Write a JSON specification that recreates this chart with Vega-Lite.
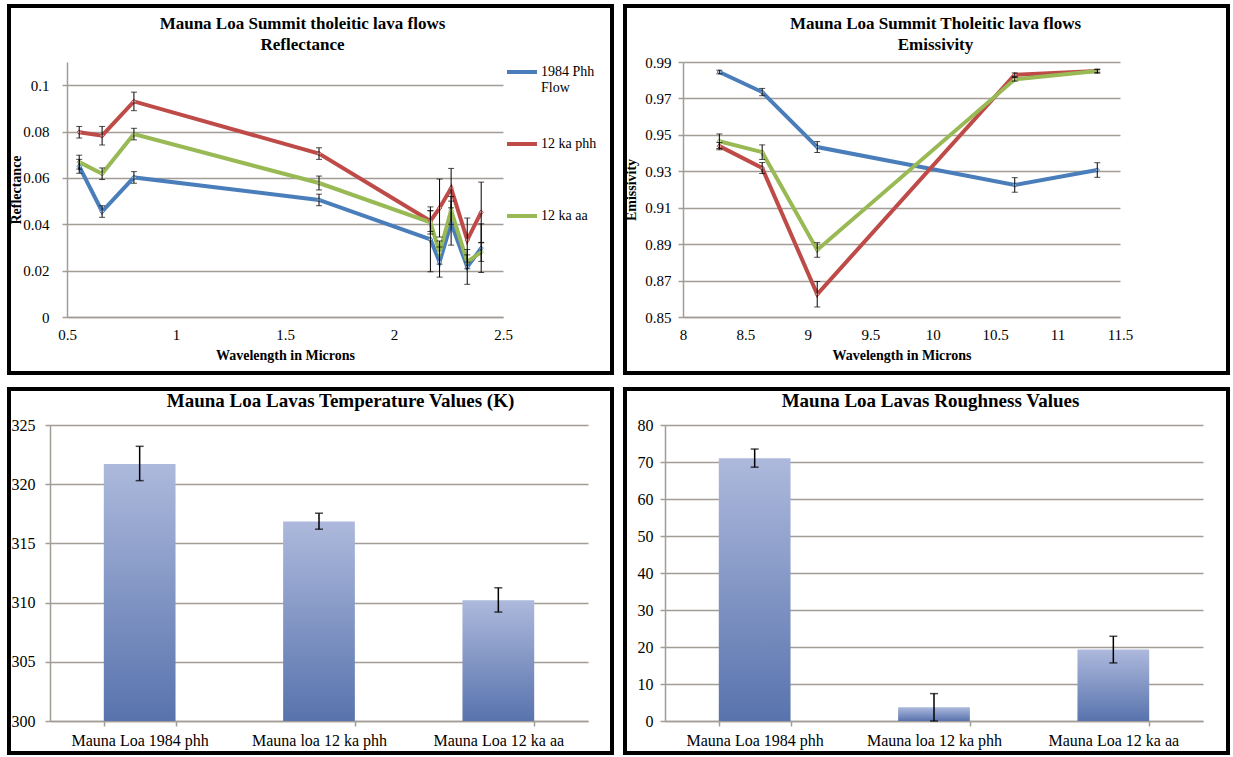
{
  "$schema": "https://vega.github.io/schema/vega-lite/v6.json",
  "background": "white",
  "padding": {"left": 7, "top": 4, "right": 0, "bottom": 0},
  "config": {
    "font": "Liberation Serif",
    "view": {"stroke": "black", "strokeWidth": 4, "fill": "white"},
    "axis": {
      "labelFont": "Liberation Serif",
      "titleFont": "Liberation Serif",
      "labelColor": "black",
      "titleColor": "black",
      "domainColor": "#a39d97",
      "gridColor": "#a39d97",
      "tickColor": "#a39d97",
      "domainWidth": 1.5,
      "gridWidth": 1.5,
      "tickWidth": 1.5,
      "labelFontSize": 15,
      "titleFontSize": 14,
      "titleFontWeight": "bold",
      "labelFlush": false,
      "labelOverlap": false
    },
    "legend": {"labelFont": "Liberation Serif"},
    "title": {"font": "Liberation Serif", "color": "black", "fontWeight": "bold"}
  },
  "concat": [
    {
      "width": 603,
      "height": 367,
      "title": {"text": ["Mauna Loa Summit  tholeitic  lava flows", "Reflectance"], "fontSize": 17, "anchor": "middle", "frame": "group", "dx": -8, "offset": -48, "lineHeight": 21},
      "data": {"values": [
        {"s": "1984 Phh Flow", "wl": 0.556, "v": 0.065, "lo": 0.062, "hi": 0.068},
        {"s": "1984 Phh Flow", "wl": 0.661, "v": 0.0455, "lo": 0.043, "hi": 0.048},
        {"s": "1984 Phh Flow", "wl": 0.807, "v": 0.0602, "lo": 0.0577, "hi": 0.0627},
        {"s": "1984 Phh Flow", "wl": 1.656, "v": 0.0505, "lo": 0.048, "hi": 0.053},
        {"s": "1984 Phh Flow", "wl": 2.167, "v": 0.0335, "lo": 0.0195, "hi": 0.0475},
        {"s": "1984 Phh Flow", "wl": 2.209, "v": 0.0237, "lo": 0.0172, "hi": 0.0302},
        {"s": "1984 Phh Flow", "wl": 2.262, "v": 0.0405, "lo": 0.031, "hi": 0.05},
        {"s": "1984 Phh Flow", "wl": 2.336, "v": 0.0216, "lo": 0.0141, "hi": 0.0291},
        {"s": "1984 Phh Flow", "wl": 2.4, "v": 0.0297, "lo": 0.0192, "hi": 0.0402},
        {"s": "12 ka phh", "wl": 0.556, "v": 0.0797, "lo": 0.0772, "hi": 0.0822},
        {"s": "12 ka phh", "wl": 0.661, "v": 0.0782, "lo": 0.0742, "hi": 0.0822},
        {"s": "12 ka phh", "wl": 0.807, "v": 0.093, "lo": 0.089, "hi": 0.097},
        {"s": "12 ka phh", "wl": 1.656, "v": 0.0705, "lo": 0.068, "hi": 0.073},
        {"s": "12 ka phh", "wl": 2.167, "v": 0.0414, "lo": 0.0369, "hi": 0.0459},
        {"s": "12 ka phh", "wl": 2.209, "v": 0.047, "lo": 0.0345, "hi": 0.0595},
        {"s": "12 ka phh", "wl": 2.262, "v": 0.0556, "lo": 0.0471, "hi": 0.0641},
        {"s": "12 ka phh", "wl": 2.336, "v": 0.0332, "lo": 0.0237, "hi": 0.0427},
        {"s": "12 ka phh", "wl": 2.4, "v": 0.0452, "lo": 0.0322, "hi": 0.0582},
        {"s": "12 ka aa", "wl": 0.556, "v": 0.0668, "lo": 0.0638, "hi": 0.0698},
        {"s": "12 ka aa", "wl": 0.661, "v": 0.0618, "lo": 0.0593, "hi": 0.0643},
        {"s": "12 ka aa", "wl": 0.807, "v": 0.0789, "lo": 0.0764, "hi": 0.0814},
        {"s": "12 ka aa", "wl": 1.656, "v": 0.0578, "lo": 0.0548, "hi": 0.0608},
        {"s": "12 ka aa", "wl": 2.167, "v": 0.0408, "lo": 0.0358, "hi": 0.0458},
        {"s": "12 ka aa", "wl": 2.209, "v": 0.0278, "lo": 0.0228, "hi": 0.0328},
        {"s": "12 ka aa", "wl": 2.262, "v": 0.046, "lo": 0.04, "hi": 0.052},
        {"s": "12 ka aa", "wl": 2.336, "v": 0.0238, "lo": 0.0208, "hi": 0.0268},
        {"s": "12 ka aa", "wl": 2.4, "v": 0.028, "lo": 0.024, "hi": 0.032}
      ]},
      "layer": [
        {
          "mark": {"type": "line", "strokeWidth": 4},
          "encoding": {
            "x": {"field": "wl", "type": "quantitative", "title": "Wavelength in Microns", "scale": {"domain": [0.5, 2.5], "range": [58, 494], "nice": false, "zero": false},
              "axis": {"offset": -56, "values": [0.5, 1, 1.5, 2, 2.5], "format": "~g", "grid": false, "ticks": false, "labelPadding": 10, "titlePadding": 6}},
            "y": {"field": "v", "type": "quantitative", "title": "Reflectance", "scale": {"domain": [0, 0.11], "range": [311, 56], "nice": false},
              "axis": {"offset": -58, "values": [0, 0.02, 0.04, 0.06, 0.08, 0.1], "format": "~g", "grid": true, "tickSize": 5, "labelPadding": 13, "titleX": -44}},
            "color": {"field": "s", "type": "nominal", "sort": ["1984 Phh Flow", "12 ka phh", "12 ka aa"],
              "scale": {"domain": ["1984 Phh Flow", "12 ka phh", "12 ka aa"], "range": ["#4a7ebb", "#be4b48", "#98b954"]},
              "legend": {"orient": "none", "legendX": 496, "legendY": 49, "title": null, "padding": 0, "symbolType": "stroke", "symbolSize": 900, "symbolStrokeWidth": 4, "labelFont": "Liberation Serif", "labelFontSize": 14, "labelColor": "black", "rowPadding": 32, "gridAlign": "all", "labelOffset": 2, "labelBaseline": "middle", "labelExpr": "datum.label == '1984 Phh Flow' ? ['1984  Phh', 'Flow'] : datum.label"}}
          }
        },
        {
          "mark": {"type": "point", "shape": "diamond", "filled": false, "fill": "white", "fillOpacity": 0.7, "size": 20, "strokeWidth": 1},
          "encoding": {
            "x": {"field": "wl", "type": "quantitative", "title": "Wavelength in Microns"},
            "y": {"field": "v", "type": "quantitative", "title": "Reflectance"},
            "color": {"field": "s", "type": "nominal"}
          }
        },
        {
          "mark": {"type": "errorbar", "color": "black", "thickness": 1, "ticks": {"size": 6, "thickness": 1, "color": "black"}},
          "encoding": {
            "x": {"field": "wl", "type": "quantitative", "title": "Wavelength in Microns"},
            "y": {"field": "lo", "type": "quantitative", "title": "Reflectance"},
            "y2": {"field": "hi"}
          }
        }
      ]
    },
    {
      "width": 603,
      "height": 367,
      "title": {"text": ["Mauna Loa Summit Tholeitic lava flows", "Emissivity"], "fontSize": 17, "anchor": "middle", "frame": "group", "dx": 9, "offset": -48, "lineHeight": 21},
      "data": {"values": [
        {"s": "1984 Phh Flow", "wl": 8.291, "v": 0.9845, "lo": 0.9835, "hi": 0.9855},
        {"s": "1984 Phh Flow", "wl": 8.634, "v": 0.9735, "lo": 0.9715, "hi": 0.9755},
        {"s": "1984 Phh Flow", "wl": 9.075, "v": 0.9433, "lo": 0.9403, "hi": 0.9463},
        {"s": "1984 Phh Flow", "wl": 10.657, "v": 0.9225, "lo": 0.9185, "hi": 0.9265},
        {"s": "1984 Phh Flow", "wl": 11.318, "v": 0.9307, "lo": 0.9267, "hi": 0.9347},
        {"s": "12 ka phh", "wl": 8.291, "v": 0.9438, "lo": 0.9418, "hi": 0.9458},
        {"s": "12 ka phh", "wl": 8.634, "v": 0.9318, "lo": 0.9288, "hi": 0.9348},
        {"s": "12 ka phh", "wl": 9.075, "v": 0.8625, "lo": 0.8555, "hi": 0.8695},
        {"s": "12 ka phh", "wl": 10.657, "v": 0.983, "lo": 0.982, "hi": 0.984},
        {"s": "12 ka phh", "wl": 11.318, "v": 0.985, "lo": 0.984, "hi": 0.986},
        {"s": "12 ka aa", "wl": 8.291, "v": 0.9465, "lo": 0.9425, "hi": 0.9505},
        {"s": "12 ka aa", "wl": 8.634, "v": 0.9405, "lo": 0.9365, "hi": 0.9445},
        {"s": "12 ka aa", "wl": 9.075, "v": 0.8868, "lo": 0.8828, "hi": 0.8908},
        {"s": "12 ka aa", "wl": 10.657, "v": 0.9805, "lo": 0.9795, "hi": 0.9815},
        {"s": "12 ka aa", "wl": 11.318, "v": 0.985, "lo": 0.984, "hi": 0.986}
      ]},
      "layer": [
        {
          "mark": {"type": "line", "strokeWidth": 4},
          "encoding": {
            "x": {"field": "wl", "type": "quantitative", "title": "Wavelength in Microns", "scale": {"domain": [8, 11.5], "range": [58, 495], "nice": false, "zero": false},
              "axis": {"offset": -56, "values": [8, 8.5, 9, 9.5, 10, 10.5, 11, 11.5], "format": "~g", "grid": false, "ticks": false, "labelPadding": 10, "titlePadding": 6}},
            "y": {"field": "v", "type": "quantitative", "title": "Emissivity", "scale": {"domain": [0.85, 0.99], "range": [311, 56], "nice": false, "zero": false},
              "axis": {"offset": -58, "values": [0.85, 0.87, 0.89, 0.91, 0.93, 0.95, 0.97, 0.99], "format": ".2f", "grid": true, "tickSize": 5, "labelPadding": 7, "titleX": -45}},
            "color": {"field": "s", "type": "nominal", "sort": ["1984 Phh Flow", "12 ka phh", "12 ka aa"],
              "scale": {"domain": ["1984 Phh Flow", "12 ka phh", "12 ka aa"], "range": ["#4a7ebb", "#be4b48", "#98b954"]},
              "legend": {"orient": "none", "legendX": 507, "legendY": 112, "title": null, "padding": 0, "symbolType": "stroke", "symbolSize": 900, "symbolStrokeWidth": 4, "labelFont": "Liberation Serif", "labelFontSize": 14, "labelColor": "black", "rowPadding": 32, "gridAlign": "all", "labelOffset": 2, "labelBaseline": "middle", "labelExpr": "datum.label == '1984 Phh Flow' ? ['1984  Phh', 'Flow'] : datum.label"}}
          }
        },
        {
          "mark": {"type": "point", "shape": "diamond", "filled": false, "fill": "white", "fillOpacity": 0.7, "size": 20, "strokeWidth": 1},
          "encoding": {
            "x": {"field": "wl", "type": "quantitative", "title": "Wavelength in Microns"},
            "y": {"field": "v", "type": "quantitative", "title": "Emissivity"},
            "color": {"field": "s", "type": "nominal"}
          }
        },
        {
          "mark": {"type": "errorbar", "color": "black", "thickness": 1, "ticks": {"size": 6, "thickness": 1, "color": "black"}},
          "encoding": {
            "x": {"field": "wl", "type": "quantitative", "title": "Wavelength in Microns"},
            "y": {"field": "lo", "type": "quantitative", "title": "Emissivity"},
            "y2": {"field": "hi"}
          }
        }
      ]
    },
    {
      "width": 603,
      "height": 364,
      "title": {"text": "Mauna Loa Lavas Temperature Values  (K)", "fontSize": 19, "anchor": "middle", "frame": "group", "dx": 30, "offset": -22},
      "data": {"values": [
        {"c": "Mauna Loa 1984 phh", "v": 321.7, "lo": 320.3, "hi": 323.2},
        {"c": "Mauna loa 12 ka phh", "v": 316.85, "lo": 316.2, "hi": 317.55},
        {"c": "Mauna Loa 12 ka aa", "v": 310.2, "lo": 309.2, "hi": 311.25}
      ]},
      "layer": [
        {
          "mark": {"type": "bar", "color": {"gradient": "linear", "x1": 0, "y1": 0, "x2": 0, "y2": 1, "stops": [{"offset": 0, "color": "#adb9dc"}, {"offset": 1, "color": "#5873ad"}]}},
          "encoding": {
            "x": {"field": "c", "type": "nominal", "sort": null, "title": null, "scale": {"range": [41, 579], "paddingInner": 0.6, "paddingOuter": 0.3},
              "axis": {"labelAngle": 0, "offset": -32, "tickBand": "extent", "tickSize": 5, "labelPadding": 6, "labelFontSize": 16, "grid": false}},
            "y": {"field": "v", "type": "quantitative", "title": null, "scale": {"domain": [300, 325], "range": [332, 36], "nice": false, "zero": false},
              "axis": {"offset": -41, "values": [300, 305, 310, 315, 320, 325], "grid": true, "tickSize": 5, "labelPadding": 10, "labelFontSize": 16}},
            "y2": {"datum": 300}
          }
        },
        {
          "mark": {"type": "errorbar", "color": "black", "thickness": 1.5, "ticks": {"size": 8, "thickness": 1.5, "color": "black"}},
          "encoding": {
            "x": {"field": "c", "type": "nominal", "sort": null, "title": null},
            "y": {"field": "lo", "type": "quantitative", "title": null},
            "y2": {"field": "hi"}
          }
        }
      ]
    },
    {
      "width": 603,
      "height": 364,
      "title": {"text": "Mauna Loa Lavas Roughness Values", "fontSize": 19, "anchor": "middle", "frame": "group", "dx": 4, "offset": -22},
      "data": {"values": [
        {"c": "Mauna Loa 1984 phh", "v": 71.0, "lo": 68.6, "hi": 73.5},
        {"c": "Mauna loa 12 ka phh", "v": 3.7, "lo": 0, "hi": 7.4},
        {"c": "Mauna Loa 12 ka aa", "v": 19.3, "lo": 15.7, "hi": 22.9}
      ]},
      "layer": [
        {
          "mark": {"type": "bar", "color": {"gradient": "linear", "x1": 0, "y1": 0, "x2": 0, "y2": 1, "stops": [{"offset": 0, "color": "#adb9dc"}, {"offset": 1, "color": "#5873ad"}]}},
          "encoding": {
            "x": {"field": "c", "type": "nominal", "sort": null, "title": null, "scale": {"range": [40, 578], "paddingInner": 0.6, "paddingOuter": 0.3},
              "axis": {"labelAngle": 0, "offset": -32, "tickBand": "extent", "tickSize": 5, "labelPadding": 6, "labelFontSize": 16, "grid": false}},
            "y": {"field": "v", "type": "quantitative", "title": null, "scale": {"domain": [0, 80], "range": [332, 36], "nice": false},
              "axis": {"offset": -40, "values": [0, 10, 20, 30, 40, 50, 60, 70, 80], "grid": true, "tickSize": 5, "labelPadding": 7, "labelFontSize": 16}},
            "y2": {"datum": 0}
          }
        },
        {
          "mark": {"type": "errorbar", "color": "black", "thickness": 1.5, "ticks": {"size": 8, "thickness": 1.5, "color": "black"}},
          "encoding": {
            "x": {"field": "c", "type": "nominal", "sort": null, "title": null},
            "y": {"field": "lo", "type": "quantitative", "title": null},
            "y2": {"field": "hi"}
          }
        }
      ]
    }
  ],
  "columns": 2,
  "spacing": {"row": 16, "column": 13},
  "bounds": "flush"
}
